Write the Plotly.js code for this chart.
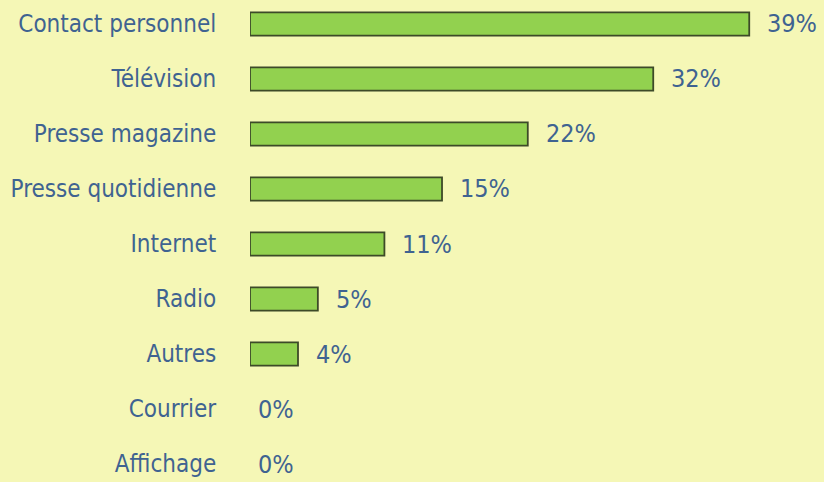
<!DOCTYPE html>
<html>
<head>
<meta charset="utf-8">
<script src="https://cdn.plot.ly/plotly-3.0.1.min.js"></script>
<style>html,body{margin:0;padding:0;background:#f5f7b6;}</style>
</head>
<body>
<div id="chart" style="width:824px;height:482px;"></div>
<script>
const categories = ["Contact personnel","Télévision","Presse magazine","Presse quotidienne","Internet","Radio","Autres","Courrier","Affichage"];
const values = [39, 31.5, 21.7, 15, 10.5, 5.3, 3.75, 0, 0];
const labels = ["39%","32%","22%","15%","11%","5%","4%","0%","0%"];

const FONT = '"DejaVu Sans Condensed", "Liberation Sans Narrow", sans-serif';
const TXT = '#3f6391';
const SIZE = 24;

const annotations = values.map((v, i) => ({
  x: v, y: categories[i], xref: 'x', yref: 'y',
  text: labels[i], showarrow: false,
  xanchor: 'left', yanchor: 'middle',
  xshift: v > 0 ? 16 : 6,
  font: {family: FONT, size: SIZE + 1, color: TXT}
}));

Plotly.newPlot('chart', [{
  type: 'bar',
  orientation: 'h',
  y: categories,
  x: values,
  cliponaxis: false,
  marker: {color: '#92d14f', line: {color: '#3d4a28', width: values.map(v => v > 0 ? 1.8 : 0)}},
  width: 0.42,
  hoverinfo: 'none'
}], {
  width: 824, height: 482,
  margin: {l: 250, r: 0, t: 0, b: 0, pad: 0},
  paper_bgcolor: '#f5f7b6',
  plot_bgcolor: '#f5f7b6',
  showlegend: false,
  annotations: annotations,
  xaxis: {range: [0, 44.84], visible: false, fixedrange: true},
  yaxis: {
    type: 'category',
    range: [8.327, -0.436],
    showgrid: false, zeroline: false, showline: false,
    ticks: 'outside', ticklen: 28, tickcolor: 'rgba(0,0,0,0)',
    tickfont: {family: FONT, size: SIZE, color: TXT},
    fixedrange: true
  },
  font: {family: FONT}
}, {staticPlot: true});
</script>
</body>
</html>
